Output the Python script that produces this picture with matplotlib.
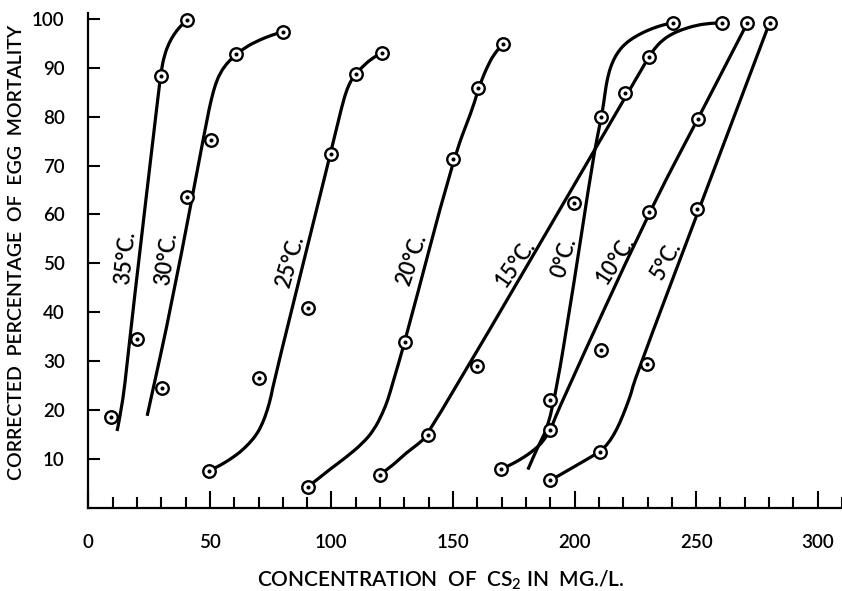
import matplotlib
matplotlib.use("Agg")
import matplotlib.pyplot as plt
from matplotlib.path import Path
from matplotlib.patches import PathPatch
from matplotlib.ticker import MultipleLocator


plt.rcParams['font.family'] = ['Lato', 'DejaVu Sans']
plt.rcParams['font.weight'] = 'semibold'
plt.rcParams['mathtext.fontset'] = 'custom'
plt.rcParams['mathtext.rm'] = 'Lato:semibold'


# observed points (mg/l, corrected % mortality)
p35_x = [9.5, 20, 30, 40.5]
p35_y = [18.6, 34.6, 88.4, 99.8]
p30_x = [30.2, 40.5, 50.6, 60.8, 80.2]
p30_y = [24.4, 63.5, 75.3, 92.8, 97.4]
p25_x = [49.8, 70.4, 90.5, 99.8, 110, 120.6]
p25_y = [7.6, 26.6, 40.8, 72.4, 88.8, 93.1]
p20_x = [90.2, 130.2, 150, 160.3, 170.5]
p20_y = [4.3, 33.9, 71.3, 85.8, 94.8]
p15_x = [119.8, 139.9, 159.8, 199.9, 220.6, 230.6, 260.6]
p15_y = [6.7, 14.9, 29.0, 62.3, 84.9, 92.2, 99.2]
p0_x = [190, 211, 240.5]
p0_y = [22.0, 79.9, 99.2]
p10_x = [169.8, 190.1, 210.8, 230.6, 250.7, 271.1]
p10_y = [7.9, 15.9, 32.2, 60.5, 79.5, 99.2]
p5_x = [190.1, 210.3, 229.8, 250.3, 280.2]
p5_y = [5.6, 11.4, 29.4, 61.1, 99.2]

# hand-drawn curves
c35_x = [11.8, 12.5, 13.6, 14.8, 18.2, 29.0, 30.0, 31.3, 33.2, 35.3, 37.5, 40.5]
c35_y = [15.7, 17.3, 20.5, 24.1, 39.8, 85.5, 89.5, 92.6, 95.1, 96.9, 98.3, 99.8]
c30_x = [24.2, 34.7, 48.8, 50.6, 52.3, 54.3, 56.8, 59.6, 64.5, 70.4, 75.5, 80.2]
c30_y = [18.8, 42.5, 79.5, 83.6, 86.7, 89.0, 90.8, 92.2, 94.2, 95.7, 96.7, 97.4]
c25_x = [49.8, 54.0, 58.0, 62.3, 66.3, 69.4, 71.7, 73.6, 75.2, 76.5, 99.6, 104.5,
         106.5, 108.3, 110.2, 113.0, 115.8, 120.6]
c25_y = [7.6, 8.6, 9.8, 11.3, 13.2, 15.1, 17.3, 19.9, 22.8, 26.2, 72.4, 82.6,
         85.8, 87.6, 88.9, 90.3, 91.6, 93.1]
c20_x = [90.2, 94.5, 99.2, 106.0, 112.9, 117.5, 121.1, 123.3, 125.2, 130.2, 150,
         157.8, 159.8, 161.8, 163.9, 166.8, 170.5]
c20_y = [4.3, 5.9, 7.8, 10.3, 13.2, 15.9, 19.4, 22.2, 25.5, 33.9, 71.3,
         81.3, 84.6, 87.5, 90.0, 92.8, 94.8]
c15_x = [119.8, 125.5, 130.7, 135.6, 139.9, 228.5, 230.8, 233.0, 235.8,
         239.5, 244.0, 250.0, 255.5, 260.6]
c15_y = [6.7, 8.8, 11.2, 13.0, 14.9, 90.5, 92.4, 94.0, 95.5,
         96.8, 97.8, 98.7, 99.1, 99.2]
c0_x = [180.8, 184.9, 190.5, 200, 207.5, 211.0, 212.0, 213.0, 214.4, 216.0,
        217.8, 220.5, 224.0, 228.0, 232.2, 236.5, 240.5]
c0_y = [7.8, 12.5, 18.0, 46.6, 71.2, 79.9, 82.8, 86.6, 89.6, 91.6,
        93.2, 94.8, 96.1, 97.2, 98.1, 98.8, 99.2]
c10_x = [169.8, 173.8, 177.4, 180.6, 183.5, 186.2, 188.4, 190.1, 193.8, 230.6, 250.7, 271.1]
c10_y = [7.9, 8.8, 9.8, 10.8, 11.9, 13.1, 14.6, 15.9, 20.7, 60.5, 79.5, 99.2]
c5_x = [190.1, 200.2, 210.3, 213.2, 215.8, 218.7, 221.3, 223.3, 224.7, 250.3, 280.2]
c5_y = [5.6, 8.5, 11.4, 12.8, 14.6, 17.4, 20.7, 23.4, 26.2, 59.9, 99.2]

labels = ['35°C.', '30°C.', '25°C.', '20°C.', '15°C.', '0°C.', '10°C.', '5°C.']

series = [
    (p35_x, p35_y, c35_x, c35_y),
    (p30_x, p30_y, c30_x, c30_y),
    (p25_x, p25_y, c25_x, c25_y),
    (p20_x, p20_y, c20_x, c20_y),
    (p15_x, p15_y, c15_x, c15_y),
    (p0_x, p0_y, c0_x, c0_y),
    (p10_x, p10_y, c10_x, c10_y),
    (p5_x, p5_y, c5_x, c5_y),
]

# where the labels sit and how they lean
label_pos = [(15.5, 51.2), (32, 50.9), (83, 50.3), (133.1, 50.7),
             (175.5, 50), (195.7, 51.1), (216.7, 50.7), (237.7, 50.7)]
label_rot = [84, 82, 74, 71, 55, 73, 57, 61]


def smooth_path(xs, ys):
    # quadratic bezier through segment midpoints, read vertices as controls
    pts = list(zip(xs, ys))
    verts = [pts[0]]
    codes = [Path.MOVETO]
    if len(pts) > 2:
        mid = ((pts[0][0] + pts[1][0]) / 2, (pts[0][1] + pts[1][1]) / 2)
        verts.append(mid)
        codes.append(Path.LINETO)
        for i in range(1, len(pts) - 1):
            nxt = ((pts[i][0] + pts[i + 1][0]) / 2, (pts[i][1] + pts[i + 1][1]) / 2)
            verts += [pts[i], nxt]
            codes += [Path.CURVE3, Path.CURVE3]
    verts.append(pts[-1])
    codes.append(Path.LINETO)
    return Path(verts, codes)


fig = plt.figure(figsize=(8.42, 5.91), dpi=100)
ax = fig.add_axes([0.1049, 0.1409, 0.8951, 0.837])

for px, py, cx, cy in series:
    ax.add_patch(PathPatch(smooth_path(cx, cy), fill=False, edgecolor='black',
                           lw=2.3, capstyle='butt', joinstyle='round', zorder=2))
    ax.plot(px, py, 'o', ms=9, mfc='white', mec='black', mew=1.7, zorder=3)
    ax.plot(px, py, 'o', ms=1.9, color='black', zorder=4)

for text, (lx, ly), rot in zip(labels, label_pos, label_rot):
    ax.text(lx, ly, text, rotation=rot, rotation_mode='anchor',
            ha='center', va='center', fontsize=15.5)

ax.set_xlim(0, 310)
ax.set_ylim(0, 101.2)

for side in ['top', 'right']:
    ax.spines[side].set_visible(False)
for side in ['left', 'bottom']:
    ax.spines[side].set_linewidth(1.6)

ax.xaxis.set_major_locator(MultipleLocator(50))
ax.xaxis.set_minor_locator(MultipleLocator(10))
ax.set_xticks(range(0, 301, 50))
ax.set_yticks(range(10, 101, 10))
ax.tick_params(axis='x', which='major', direction='in', length=12, width=1.5,
               pad=19, labelsize=13.5)
ax.tick_params(axis='x', which='minor', direction='in', length=8, width=1.5)
ax.tick_params(axis='y', which='major', direction='in', length=8.5, width=1.5,
               pad=17, labelsize=13.5)

fig.text(441 / 842, 1 - 580 / 591, r'CONCENTRATION  OF  CS$_\mathregular{2}$ IN  MG./L.',
         ha='center', va='center', fontsize=15)
fig.text(16.5 / 842, 1 - 252 / 591, 'CORRECTED  PERCENTAGE  OF  EGG  MORTALITY',
         ha='center', va='center', rotation=90, fontsize=14)

fig.savefig('out.png', dpi=100)
